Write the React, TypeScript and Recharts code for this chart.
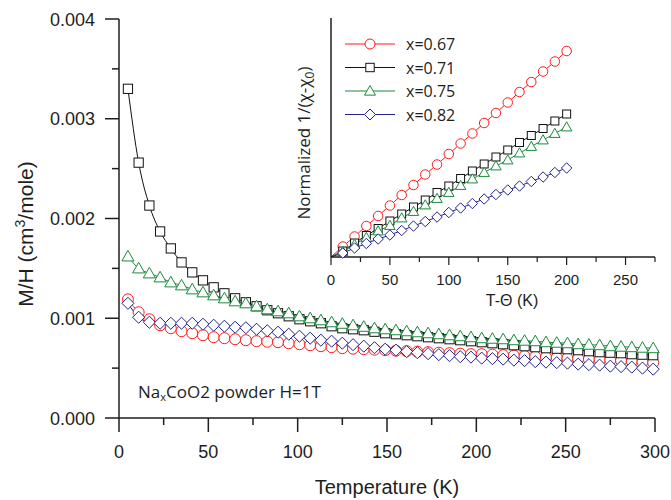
import React from 'react';
import { LineChart, Line, XAxis, YAxis, Legend } from 'recharts';

// main panel: M/H vs T, one point every 6 K
const temps = [
  5, 11, 17, 23, 29, 35, 41, 47, 53, 59, 65, 71, 77, 83, 89, 95, 101, 107, 113, 119,
  125, 131, 137, 143, 149, 155, 161, 167, 173, 179, 185, 191, 197, 203, 209, 215, 221, 227, 233, 239,
  245, 251, 257, 263, 269, 275, 281, 287, 293, 299,
];

const mh067 = [
  0.00119, 0.00106, 0.00099, 0.00093, 0.00090, 0.00087, 0.00085, 0.00083, 0.00081, 0.00080,
  0.00079, 0.00078, 0.00077, 0.000765, 0.00076, 0.00075, 0.00074, 0.00073, 0.00072, 0.00071,
  0.00070, 0.000695, 0.00069, 0.000685, 0.00068, 0.000675, 0.00067, 0.000665, 0.00066, 0.000655,
  0.00065, 0.000645, 0.00064, 0.00064, 0.000635, 0.00063, 0.000625, 0.00062, 0.000615, 0.00061,
  0.000605, 0.0006, 0.000595, 0.00059, 0.000585, 0.00058, 0.000575, 0.00057, 0.000562, 0.000555,
];
const mh071 = [
  0.0033, 0.00256, 0.00213, 0.00187, 0.0017, 0.00156, 0.00146, 0.00138, 0.00131, 0.00125,
  0.0012, 0.00116, 0.00112, 0.00108, 0.00105, 0.00102, 0.00099, 0.00097, 0.00095, 0.00092,
  0.0009, 0.00089, 0.00088, 0.000865, 0.00085, 0.00084, 0.00083, 0.00082, 0.00081, 0.0008,
  0.00079, 0.00078, 0.00077, 0.00076, 0.00075, 0.00074, 0.00073, 0.00072, 0.00071, 0.0007,
  0.000695, 0.00069, 0.00068, 0.00067, 0.00066, 0.000655, 0.00065, 0.00064, 0.000635, 0.00063,
];
const mh075 = [
  0.00162, 0.0015, 0.00145, 0.00141, 0.00136, 0.00133, 0.00129, 0.00126, 0.00123, 0.0012,
  0.00117, 0.00115, 0.00112, 0.00109, 0.00107, 0.00105, 0.00102, 0.001, 0.00098, 0.00096,
  0.000945, 0.00093, 0.000915, 0.0009, 0.00089, 0.00088, 0.00087, 0.00086, 0.00085, 0.00084,
  0.00083, 0.00082, 0.00081, 0.0008, 0.000795, 0.00079, 0.00078, 0.000775, 0.00077, 0.00076,
  0.000755, 0.00075, 0.00074, 0.000735, 0.00073, 0.00072, 0.000715, 0.00071, 0.000705, 0.0007,
];
const mh082 = [
  0.00115, 0.00101, 0.00096, 0.00095, 0.00095, 0.00095, 0.00095, 0.00094, 0.00093, 0.00092,
  0.00091, 0.000905, 0.00089, 0.000875, 0.00086, 0.00084, 0.00082, 0.0008, 0.00078, 0.00077,
  0.00075, 0.000735, 0.00072, 0.000705, 0.00069, 0.00068, 0.000665, 0.000655, 0.000645, 0.000635,
  0.000625, 0.000615, 0.00061, 0.0006, 0.000595, 0.00059, 0.00058, 0.000575, 0.000565, 0.00056,
  0.000555, 0.00055, 0.00054, 0.000535, 0.00053, 0.00052, 0.000515, 0.00051, 0.0005, 0.00049,
];

// inset: normalized 1/(chi-chi0) vs T-Theta (arbitrary units)
const tShift = [0, 10, 20, 30, 40, 50, 60, 70, 80, 90, 100, 110, 120, 130, 140, 150, 160, 170, 180, 190, 200];
const inv067 = [0, 0.21, 0.41, 0.62, 0.82, 1.03, 1.24, 1.44, 1.65, 1.85, 2.06, 2.27, 2.47, 2.68, 2.88, 3.09, 3.3, 3.5, 3.71, 3.91, 4.12];
const inv071 = [0, 0.12, 0.28, 0.43, 0.57, 0.72, 0.86, 1.0, 1.14, 1.29, 1.42, 1.57, 1.72, 1.86, 2.0, 2.14, 2.29, 2.43, 2.57, 2.72, 2.86];
const inv075 = [0, 0.11, 0.25, 0.39, 0.52, 0.63, 0.78, 0.91, 1.04, 1.17, 1.29, 1.43, 1.56, 1.69, 1.82, 1.94, 2.08, 2.21, 2.34, 2.47, 2.6];
const inv082 = [0, 0.08, 0.18, 0.27, 0.36, 0.44, 0.53, 0.62, 0.71, 0.8, 0.89, 0.98, 1.07, 1.16, 1.25, 1.34, 1.42, 1.51, 1.6, 1.69, 1.78];

const xTicks = [0, 25, 50, 75, 100, 125, 150, 175, 200, 225, 250, 275, 300];
const yTicks = [0, 0.0005, 0.001, 0.0015, 0.002, 0.0025, 0.003, 0.0035, 0.004];
const insetTicks = [0, 25, 50, 75, 100, 125, 150, 175, 200, 225, 250, 275];

const series = [
  { key: 'r', name: 'x=0.67', color: '#ff1a1a', shape: 'circle' },
  { key: 'k', name: 'x=0.71', color: '#111111', shape: 'square' },
  { key: 'g', name: 'x=0.75', color: '#1b8a3c', shape: 'triangle' },
  { key: 'b', name: 'x=0.82', color: '#22228c', shape: 'diamond' },
];

const mainData = temps.map((t, i) => ({ t, r: mh067[i], k: mh071[i], g: mh075[i], b: mh082[i] }));
const insetData = tShift.map((t, i) => ({ t, r: inv067[i], k: inv071[i], g: inv075[i], b: inv082[i] }));

const AX = '#1e1e1e';
const SANS = '"Liberation Sans", Arial, sans-serif';
const SOFT = '"Open Sans", "Noto Sans", sans-serif';

function shapeEl(shape: string, cx: number, cy: number, color: string, s: number, key?: string) {
  const common = { stroke: color, strokeWidth: 1, fill: '#fff', key };
  if (shape === 'circle') return <circle cx={cx} cy={cy} r={s * 0.5} {...common} />;
  if (shape === 'square') return <rect x={cx - s * 0.42} y={cy - s * 0.42} width={s * 0.84} height={s * 0.84} {...common} />;
  if (shape === 'triangle') {
    const h = s * 0.55;
    return <polygon points={`${cx},${cy - h} ${cx - h},${cy + h * 0.75} ${cx + h},${cy + h * 0.75}`} {...common} />;
  }
  const d = s * 0.55;
  return <polygon points={`${cx},${cy - d} ${cx + d},${cy} ${cx},${cy + d} ${cx - d},${cy}`} {...common} />;
}

const makeDot = (shape: string, color: string, size: number, skipFirst: boolean) => (p: any) => {
  const { cx, cy, index } = p;
  if (cx == null || cy == null || (skipFirst && index === 0)) return <g key={`d-${index}`} />;
  return shapeEl(shape, cx, cy, color, size, `d-${index}`);
};

const MainXTick = ({ x, y, payload }: any) => {
  const major = payload.value % 50 === 0;
  return (
    <g>
      <line x1={x} x2={x} y1={y} y2={y + (major ? 14 : 7)} stroke={AX} strokeWidth={1.5} />
      {major && (
        <text x={x} y={y + 40} textAnchor="middle" fontSize={18} fill={AX} fontFamily={SANS}>
          {payload.value}
        </text>
      )}
    </g>
  );
};

const MainYTick = ({ x, y, payload }: any) => {
  const major = Math.round(payload.value * 10000) % 10 === 0;
  return (
    <g>
      <line x1={x} x2={x - (major ? 14 : 7)} y1={y} y2={y} stroke={AX} strokeWidth={1.5} />
      {major && (
        <text x={x - 24} y={y + 6.5} textAnchor="end" fontSize={18} fill={AX} fontFamily={SANS}>
          {payload.value.toFixed(3)}
        </text>
      )}
    </g>
  );
};

const TopTick = ({ x, y }: any) => <line x1={x} x2={x} y1={y} y2={y + 4} stroke={AX} strokeWidth={1.2} />;
const RightTick = ({ x, y }: any) => <line x1={x} x2={x + 4} y1={y} y2={y} stroke={AX} strokeWidth={1.2} />;

const InsetXTick = ({ x, y, payload }: any) => {
  const major = payload.value % 50 === 0;
  return (
    <g>
      <line x1={x} x2={x} y1={y} y2={y + (major ? 8 : 5)} stroke={AX} strokeWidth={1.2} />
      {major && (
        <text x={x} y={y + 28} textAnchor="middle" fontSize={15} fill={AX} fontFamily={SANS}>
          {payload.value}
        </text>
      )}
    </g>
  );
};

const MainYLabel = () => (
  <text transform="translate(33,234) rotate(-90)" textAnchor="middle" fontSize={21} fill={AX} fontFamily={SANS}>
    M/H (cm
    <tspan dy={-8} fontSize={14}>3</tspan>
    <tspan dy={8}>/mole)</tspan>
  </text>
);

const MainXLabel = () => (
  <text x={387} y={494} textAnchor="middle" fontSize={20} fill={AX} fontFamily={SANS}>
    Temperature (K)
  </text>
);

const InsetYLabel = () => (
  <text transform="translate(310,143) rotate(-90)" textAnchor="middle" fontSize={17} fill={AX} fontFamily={SOFT}>
    Normalized 1/(χ-χ
    <tspan dy={4} fontSize={12}>0</tspan>
    <tspan dy={-4}>)</tspan>
  </text>
);

const InsetXLabel = () => (
  <text x={512} y={306} textAnchor="middle" fontSize={16} fill={AX} fontFamily={SANS}>
    T-Θ (K)
  </text>
);

const LegendBox = () => (
  <svg width={140} height={100}>
    {series.map((s, i) => {
      const cy = 10 + i * 23.5;
      return (
        <g key={s.key}>
          <line x1={5} x2={55} y1={cy} y2={cy} stroke={s.color} strokeWidth={1} />
          {shapeEl(s.shape, 30, cy, s.color, 10)}
          <text x={66} y={cy + 6} fontSize={16} fill={AX} fontFamily={SOFT}>
            {s.name}
          </text>
        </g>
      );
    })}
  </svg>
);

export default function App() {
  return (
    <div style={{ position: 'absolute', left: 0, top: 0, width: 671, height: 500, background: '#fff' }}>
      <LineChart width={671} height={500} data={mainData} margin={{ top: 19, right: 16, bottom: 22, left: 0 }}>
        <XAxis
          xAxisId="main"
          dataKey="t"
          type="number"
          domain={[0, 300]}
          ticks={xTicks}
          height={60}
          tickSize={0}
          tickMargin={0}
          tick={<MainXTick />}
          axisLine={{ stroke: AX, strokeWidth: 1.5 }}
          tickLine={false}
          interval={0}
          label={<MainXLabel />}
        />
        <XAxis
          xAxisId="top"
          orientation="top"
          type="number"
          domain={[0, 300]}
          ticks={xTicks}
          height={0}
          tickSize={0}
          tickMargin={0}
          tick={<TopTick />}
          axisLine={{ stroke: AX, strokeWidth: 1.5 }}
          tickLine={false}
          interval={0}
        />
        <YAxis
          yAxisId="main"
          type="number"
          domain={[0, 0.004]}
          ticks={yTicks}
          width={119}
          tickSize={0}
          tickMargin={0}
          tick={<MainYTick />}
          axisLine={{ stroke: AX, strokeWidth: 1.5 }}
          tickLine={false}
          interval={0}
          label={<MainYLabel />}
        />
        <YAxis
          yAxisId="right"
          orientation="right"
          type="number"
          domain={[0, 0.004]}
          ticks={yTicks}
          width={0}
          tickSize={0}
          tickMargin={0}
          tick={<RightTick />}
          axisLine={{ stroke: AX, strokeWidth: 1.5 }}
          tickLine={false}
          interval={0}
        />
        {series.map((s) => (
          <Line
            key={s.key}
            xAxisId="main"
            yAxisId="main"
            dataKey={s.key}
            type="monotone"
            stroke={s.color}
            strokeWidth={1}
            dot={makeDot(s.shape, s.color, 11, false)}
            isAnimationActive={false}
          />
        ))}
      </LineChart>

      <div
        style={{
          position: 'absolute',
          left: 138,
          top: 382,
          fontFamily: SOFT,
          fontSize: 17,
          color: AX,
          whiteSpace: 'nowrap',
          lineHeight: '20px',
        }}
      >
        Na<sub style={{ fontSize: 11, verticalAlign: '-3px' }}>x</sub>CoO2 powder H=1T
      </div>

      <div style={{ position: 'absolute', left: 0, top: 0 }}>
        <LineChart width={671} height={320} data={insetData} margin={{ top: 18, right: 16, bottom: 13, left: 301 }}>
          <XAxis
            dataKey="t"
            type="number"
            domain={[0, 275]}
            ticks={insetTicks}
            height={50}
            tickSize={0}
            tickMargin={0}
            tick={<InsetXTick />}
            axisLine={{ stroke: AX, strokeWidth: 1.5 }}
            tickLine={false}
            interval={0}
            label={<InsetXLabel />}
          />
          <YAxis
            type="number"
            domain={[0, 4.78]}
            width={30}
            tick={false}
            tickLine={false}
            axisLine={{ stroke: AX, strokeWidth: 1.5 }}
            label={<InsetYLabel />}
          />
          <Legend
            layout="vertical"
            align="center"
            verticalAlign="middle"
            content={<LegendBox />}
            wrapperStyle={{ position: 'absolute', left: 340, top: 34, width: 140 }}
          />
          {series.map((s) => (
            <Line
              key={s.key}
              dataKey={s.key}
              type="linear"
              stroke={s.color}
              strokeWidth={1}
              dot={makeDot(s.shape, s.color, 9.5, true)}
              isAnimationActive={false}
            />
          ))}
        </LineChart>
      </div>
    </div>
  );
}
